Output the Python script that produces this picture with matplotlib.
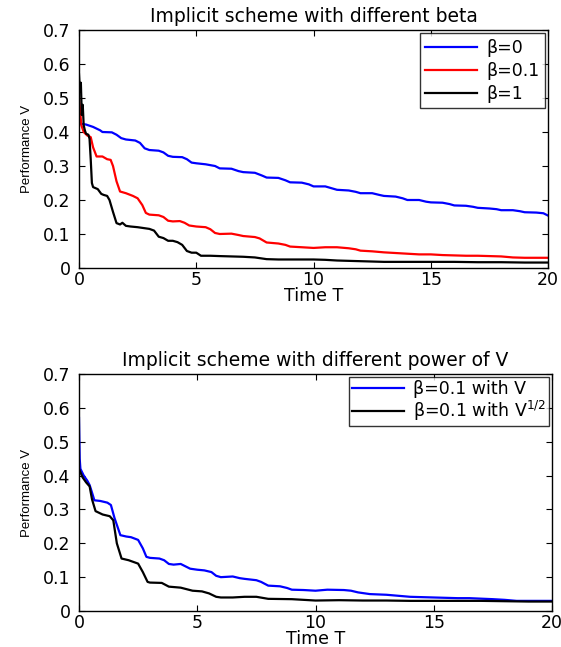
import numpy as np
import matplotlib.pyplot as plt

# top panel: implicit scheme, different beta
t_b0 = [0, 0.3, 0.6, 0.9, 1.0, 1.4, 1.6, 1.8, 2.0, 2.4, 2.6, 2.8, 3.0, 3.4, 3.6, 3.8, 4.0, 4.4,
        4.6, 4.8, 5.0, 5.4, 5.8, 6.0, 6.5, 6.8, 7.0, 7.5, 7.8, 8.0, 8.5, 8.8, 9.0, 9.5, 9.8, 10.0,
        10.5, 10.8, 11.0, 11.5, 11.8, 12.0, 12.5, 12.8, 13.0, 13.5, 13.8, 14.0, 14.5, 14.8, 15.0,
        15.5, 15.8, 16.0, 16.5, 16.8, 17.0, 17.5, 17.8, 18.0, 18.5, 18.8, 19.0, 19.5, 19.8, 20.0]
v_b0 = [0.425, 0.422, 0.415, 0.405, 0.400, 0.399, 0.392, 0.382, 0.378, 0.375, 0.368, 0.352, 0.347,
        0.345, 0.340, 0.330, 0.327, 0.326, 0.320, 0.310, 0.308, 0.305, 0.300, 0.293, 0.292, 0.285,
        0.282, 0.280, 0.272, 0.266, 0.265, 0.258, 0.252, 0.251, 0.246, 0.240, 0.240, 0.234, 0.230,
        0.228, 0.224, 0.220, 0.220, 0.215, 0.212, 0.210, 0.205, 0.200, 0.200, 0.195, 0.193, 0.192,
        0.188, 0.184, 0.183, 0.180, 0.177, 0.175, 0.173, 0.170, 0.170, 0.167, 0.164, 0.163, 0.161,
        0.154]

t_b01 = [0, 0.1, 0.2, 0.35, 0.5, 0.6, 0.75, 1.0, 1.2, 1.35, 1.45, 1.6, 1.75, 2.0, 2.3, 2.5, 2.7,
         2.85, 3.0, 3.4, 3.6, 3.8, 4.0, 4.3, 4.5, 4.7, 5.0, 5.4, 5.6, 5.8, 6.0, 6.5, 6.8, 7.0, 7.5,
         7.7, 8.0, 8.5, 8.8, 9.0, 9.5, 10.0, 10.5, 11.0, 11.5, 11.8, 12.0, 12.5, 13.0, 13.5, 14.0,
         14.5, 15.0, 15.5, 16.0, 16.5, 17.0, 17.5, 18.0, 18.5, 19.0, 19.5, 20.0]
v_b01 = [0.50, 0.42, 0.40, 0.390, 0.385, 0.355, 0.328, 0.328, 0.320, 0.318, 0.300, 0.255, 0.225,
         0.220, 0.212, 0.205, 0.185, 0.162, 0.157, 0.155, 0.150, 0.139, 0.137, 0.138, 0.133, 0.125,
         0.122, 0.120, 0.114, 0.103, 0.100, 0.101, 0.097, 0.094, 0.091, 0.087, 0.075, 0.072, 0.068,
         0.063, 0.061, 0.059, 0.061, 0.061, 0.058, 0.055, 0.051, 0.049, 0.046, 0.044, 0.042, 0.040,
         0.040, 0.038, 0.037, 0.036, 0.036, 0.035, 0.034, 0.031, 0.030, 0.030, 0.030]

t_b1 = [0, 0.04, 0.08, 0.12, 0.16, 0.2, 0.25, 0.3, 0.4, 0.45, 0.5, 0.55, 0.6, 0.8, 0.95, 1.05,
        1.2, 1.3, 1.45, 1.6, 1.75, 1.85, 2.0, 2.2, 2.5, 2.8, 3.0, 3.2, 3.4, 3.6, 3.8, 4.0, 4.2,
        4.4, 4.6, 4.8, 5.0, 5.2, 5.6, 6.0, 6.5, 7.0, 7.5, 8.0, 8.5, 9.0, 10.0, 10.5, 11.0, 12.0,
        13.0, 14.0, 15.0, 16.0, 17.0, 18.0, 19.0, 20.0]
v_b1 = [0.570, 0.520, 0.545, 0.450, 0.480, 0.420, 0.405, 0.395, 0.392, 0.380, 0.320, 0.250, 0.238,
        0.232, 0.218, 0.215, 0.212, 0.200, 0.165, 0.132, 0.128, 0.133, 0.124, 0.122, 0.120, 0.117,
        0.115, 0.110, 0.092, 0.088, 0.080, 0.080, 0.076, 0.068, 0.050, 0.045, 0.045, 0.036, 0.036,
        0.035, 0.034, 0.033, 0.031, 0.026, 0.025, 0.025, 0.025, 0.024, 0.022, 0.020, 0.018, 0.018,
        0.018, 0.018, 0.017, 0.017, 0.016, 0.016]

# bottom panel: different power of V
t_v = [0, 0.03, 0.06, 0.2, 0.35, 0.45, 0.55, 0.65, 0.9, 1.2, 1.35, 1.5, 1.75, 2.0, 2.2, 2.5,
       2.7, 2.85, 3.0, 3.4, 3.6, 3.8, 4.0, 4.3, 4.5, 4.7, 5.0, 5.3, 5.6, 5.8, 6.0, 6.5, 6.8, 7.0,
       7.5, 7.7, 8.0, 8.5, 8.8, 9.0, 9.5, 10.0, 10.5, 11.2, 11.5, 11.8, 12.3, 13.0, 13.5, 14.0,
       15.0, 16.0, 16.5, 17.5, 18.0, 18.5, 19.5, 20.0]
v_v = [0.570, 0.450, 0.420, 0.400, 0.385, 0.372, 0.350, 0.327, 0.325, 0.320, 0.313, 0.275, 0.224,
       0.220, 0.218, 0.210, 0.185, 0.160, 0.157, 0.155, 0.150, 0.139, 0.137, 0.139, 0.132, 0.125,
       0.122, 0.120, 0.115, 0.104, 0.100, 0.102, 0.097, 0.095, 0.091, 0.086, 0.075, 0.073, 0.068,
       0.063, 0.062, 0.060, 0.063, 0.062, 0.060, 0.055, 0.050, 0.048, 0.045, 0.042, 0.040, 0.038,
       0.038, 0.035, 0.033, 0.030, 0.030, 0.030]

t_sq = [0, 0.15, 0.3, 0.45, 0.55, 0.7, 1.0, 1.3, 1.45, 1.6, 1.8, 2.1, 2.5, 2.7, 2.9, 3.0, 3.5,
        3.8, 4.3, 4.8, 5.2, 5.5, 5.8, 6.0, 6.5, 7.0, 7.5, 8.0, 9.0, 10.0, 11.0, 12.0, 13.0, 14.0,
        15.0, 16.0, 17.0, 18.0, 19.0, 20.0]
v_sq = [0.420, 0.395, 0.380, 0.368, 0.330, 0.295, 0.285, 0.280, 0.268, 0.200, 0.155, 0.150, 0.140,
        0.115, 0.086, 0.084, 0.083, 0.072, 0.069, 0.060, 0.058, 0.052, 0.042, 0.040, 0.040, 0.042,
        0.042, 0.036, 0.035, 0.031, 0.032, 0.031, 0.031, 0.030, 0.030, 0.030, 0.030, 0.029, 0.028,
        0.028]

yticks = [0, 0.1, 0.2, 0.3, 0.4, 0.5, 0.6, 0.7]
yticklabels = ['0', '0.1', '0.2', '0.3', '0.4', '0.5', '0.6', '0.7']
xticks = [0, 5, 10, 15, 20]

plt.rcParams['font.family'] = ['DejaVu Sans']
plt.rcParams['mathtext.default'] = 'regular'

fig = plt.figure(figsize=(5.61, 6.47), dpi=100)
ax1 = fig.add_axes([0.1408, 0.5858, 0.8362, 0.3678])
ax2 = fig.add_axes([0.1408, 0.0556, 0.8432, 0.3664])

lw = 1.6
ax1.plot(t_b0, v_b0, color='#0000ff', lw=lw, label='β=0')
ax1.plot(t_b01, v_b01, color='#ff0000', lw=lw, label='β=0.1')
ax1.plot(t_b1, v_b1, color='black', lw=lw, label='β=1')
ax1.set_title('Implicit scheme with different beta', fontsize=13.5, pad=6)

ax2.plot(t_v, v_v, color='#0000ff', lw=lw, label='β=0.1 with V')
ax2.plot(t_sq, v_sq, color='black', lw=lw, label='β=0.1 with V$^{1/2}$')
ax2.set_title('Implicit scheme with different power of V', fontsize=13.5, pad=6)

for ax, lsp, bp in ((ax1, 0.3, 0.3), (ax2, 0.05, 0.15)):
    ax.set_xlim(0, 20)
    ax.set_ylim(0, 0.7)
    ax.set_xticks(xticks)
    ax.set_yticks(yticks)
    ax.set_yticklabels(yticklabels)
    ax.tick_params(direction='in', top=True, right=True, labelsize=12.5, length=4)
    ax.tick_params(axis='y', pad=6)
    ax.tick_params(axis='x', pad=2)
    ax.set_xlabel('Time T', fontsize=12.5, labelpad=-1.5)
    ax.set_ylabel('Performance V', fontsize=9.5, family='Liberation Sans')
    ax.yaxis.set_label_coords(-0.097, 0.5)
    for s in ax.spines.values():
        s.set_linewidth(1.0)
    leg = ax.legend(loc='upper right', frameon=True, fancybox=False,
                    edgecolor='black', handlelength=3.0, borderaxespad=0.2,
                    labelspacing=lsp, handletextpad=0.5, borderpad=bp,
                    prop={'size': 12.5, 'family': 'DejaVu Sans'})
    leg.get_frame().set_linewidth(1.0)
    leg.set_zorder(5)

fig.savefig('out.png', dpi=100)
